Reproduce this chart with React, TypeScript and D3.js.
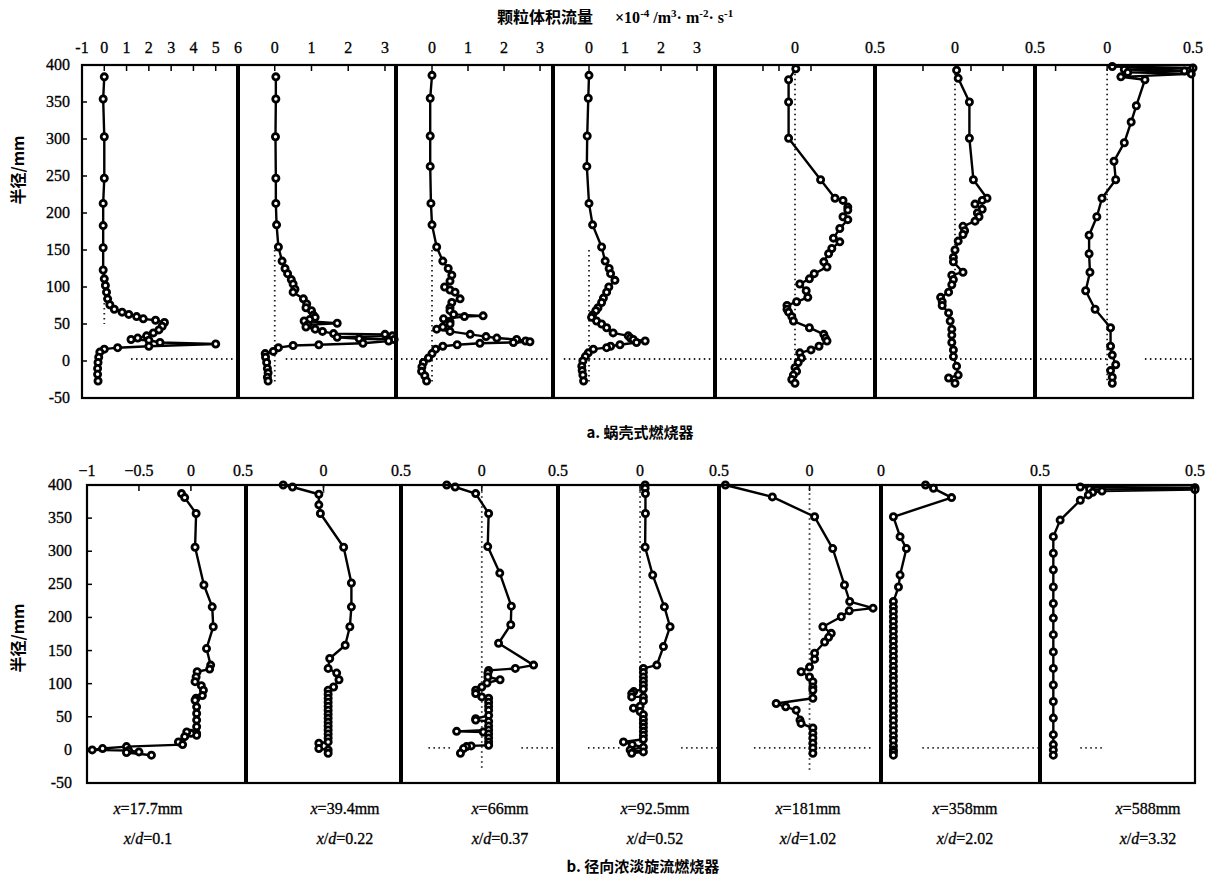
import React from 'react';
import * as d3 from 'd3';

// radial profiles, each point is [radius mm, flux ×10^-4]
// a. volute burner
const volute1: [number, number][] = [[384,0],[354,-0.05],[303,0],[247,0],[213,-0.05],[183,-0.05],[153,-0.05],[123,-0.05],[111,0],[102,0.05],[93,0.1],[84,0.15],[76,0.25],[70,0.45],[66,0.8],[63,1.1],[60,1.45],[57,1.75],[55,2.3],[52,2.7],[47,2.6],[42,2.45],[38,2.2],[34,1.9],[31,1.5],[29,1.2],[28,2.0],[25,2.5],[23,5.0],[20,2.0],[18,0.6],[16,0],[12,-0.2],[5,-0.25],[-2,-0.28],[-10,-0.3],[-18,-0.3],[-27,-0.28]];
const volute2: [number, number][] = [[384,0.03],[354,0.03],[303,0.02],[247,0.03],[213,0.03],[184,0.05],[154,0.1],[135,0.2],[125,0.28],[118,0.35],[110,0.45],[104,0.5],[97,0.55],[93,0.5],[84,0.78],[77,0.87],[72,0.85],[68,1.0],[62,1.05],[59,1.1],[56,0.95],[54,0.8],[51,1.7],[49,0.9],[46,0.85],[43,1.1],[40,1.3],[37,1.6],[36,3.0],[34,3.2],[32,1.7],[30,2.3],[29,3.25],[27,3.1],[24,2.4],[22,1.2],[21,0.5],[18,0.1],[13,-0.04],[10,-0.26],[5,-0.25],[-2,-0.22],[-10,-0.2],[-16,-0.18],[-22,-0.2],[-27,-0.18]];
const volute3: [number, number][] = [[386,0],[355,-0.05],[304,-0.05],[263,-0.05],[213,-0.03],[184,0],[154,0.13],[135,0.3],[125,0.45],[116,0.55],[108,0.5],[100,0.35],[96,0.5],[93,0.64],[84,0.78],[79,0.55],[72,0.5],[68,0.5],[63,0.6],[61,1.42],[60,0.9],[57,0.32],[53,0.5],[50,0.5],[46,0.3],[43,0.13],[40,0.5],[36,1.06],[33,1.5],[31,1.8],[29,2.35],[27,2.6],[26,2.72],[25,2.26],[24,1.33],[22,0.7],[20,0.3],[16,0.1],[10,0],[4,-0.1],[-2,-0.24],[-8,-0.28],[-14,-0.29],[-20,-0.2],[-27,-0.15]];
const volute4: [number, number][] = [[386,0],[355,-0.02],[304,-0.05],[263,-0.06],[213,0],[184,0.1],[154,0.35],[135,0.45],[125,0.56],[118,0.6],[109,0.72],[100,0.55],[93,0.49],[85,0.4],[79,0.35],[72,0.25],[68,0.19],[62,0.1],[59,0.07],[54,0.21],[50,0.35],[45,0.49],[38,0.67],[34,1.09],[31,1.15],[29,1.23],[27,1.56],[25,1.32],[22,0.86],[20,0.6],[18,0.49],[16,0.12],[11,-0.02],[6,-0.1],[0,-0.17],[-7,-0.2],[-13,-0.19],[-19,-0.17],[-27,-0.15]];
const volute5: [number, number][] = [[395,0.005],[380,-0.04],[350,-0.04],[301,-0.04],[245,0.16],[220,0.25],[217,0.3],[208,0.33],[204,0.33],[195,0.3],[191,0.33],[179,0.28],[166,0.24],[161,0.28],[152,0.23],[145,0.21],[134,0.18],[127,0.2],[118,0.12],[111,0.09],[104,0.03],[95,0.07],[86,0.08],[80,0.01],[75,-0.05],[70,-0.05],[66,-0.04],[60,-0.02],[54,-0.01],[45,0.09],[36,0.18],[31,0.19],[27,0.2],[20,0.15],[15,0.1],[11,0.03],[4,0.04],[-2,0.02],[-9,0],[-14,0.01],[-19,-0.01],[-25,-0.02],[-30,0]];
const volute6: [number, number][] = [[393,0.01],[382,0.02],[350,0.09],[301,0.09],[245,0.115],[220,0.2],[217,0.17],[212,0.125],[205,0.17],[200,0.14],[195,0.15],[189,0.125],[182,0.05],[176,0.06],[171,0.05],[162,0.02],[150,0],[140,-0.01],[134,-0.01],[120,0.05],[116,-0.02],[110,-0.01],[103,-0.02],[93,-0.04],[86,-0.09],[80,-0.08],[75,-0.08],[65,-0.04],[54,-0.03],[43,-0.02],[35,-0.02],[25,-0.02],[15,-0.01],[6,-0.01],[-7,0.01],[-19,0.02],[-23,-0.04],[-30,0]];
const volute7: [number, number][] = [[398,0.03],[396,0.5],[394,0.1],[392,0.45],[390,0.12],[388,0.49],[384,0.08],[380,0.22],[345,0.17],[323,0.14],[295,0.1],[270,0.04],[245,0.05],[220,-0.03],[195,-0.06],[170,-0.105],[145,-0.105],[120,-0.1],[95,-0.125],[70,-0.07],[45,0.02],[20,0.02],[8,0.03],[-5,0.05],[-13,0.02],[-22,0.03],[-30,0.03]];

// b. radial bias swirl burner
const radial1: [number, number][] = [[387,-0.09],[381,-0.06],[357,0.05],[306,0.04],[249,0.125],[216,0.205],[186,0.215],[153,0.15],[128,0.19],[122,0.18],[118,0.06],[110,0.05],[103,0.04],[97,0.1],[90,0.12],[82,0.11],[78,0.05],[75,0.04],[65,0.055],[55,0.055],[45,0.055],[35,0.055],[25,0.055],[22,0.055],[25,0],[27,-0.04],[20,-0.06],[12,-0.12],[8,-0.08],[5,-0.62],[2,-0.85],[0,-0.95],[-1,-0.6],[-3,-0.5],[-4,-0.62],[-8,-0.38]];
const radial2: [number, number][] = [[400,-0.26],[397,-0.2],[386,-0.03],[370,-0.03],[357,-0.02],[306,0.13],[252,0.18],[216,0.18],[186,0.17],[158,0.14],[138,0.04],[123,0.03],[116,0.085],[106,0.1],[95,0.065],[90,0.03],[84,0.03],[78,0.03],[72,0.03],[66,0.03],[60,0.03],[54,0.03],[48,0.03],[42,0.03],[36,0.03],[30,0.03],[24,0.03],[18,0.03],[12,0.03],[10,-0.03],[2,-0.03],[0,0.03],[-5,0.03]];
const radial3: [number, number][] = [[400,-0.23],[397,-0.175],[387,-0.04],[357,0.045],[307,0.039],[267,0.118],[217,0.194],[189,0.19],[161,0.11],[128,0.34],[123,0.22],[120,0.045],[116,0.04],[110,0.04],[106,0.12],[101,0.034],[95,0],[90,-0.04],[85,-0.04],[80,0],[78,0.045],[72,0.045],[66,0.045],[60,0.045],[52,0.045],[47,-0.04],[45,-0.04],[43,0.045],[36,0.045],[30,0.045],[28,-0.165],[27,0.01],[24,0.045],[18,0.045],[12,0.045],[7,0.045],[6,-0.07],[5,-0.1],[2,-0.12],[-5,-0.14]];
const radial4: [number, number][] = [[400,0.032],[395,0.032],[387,0.034],[357,0.034],[306,0.032],[264,0.08],[216,0.154],[186,0.19],[156,0.148],[128,0.106],[123,0.021],[117,0.021],[110,0.021],[104,0.021],[98,0.021],[92,0.021],[88,-0.04],[85,-0.053],[80,-0.053],[80,0.021],[74,0.021],[66,0],[63,-0.042],[58,0],[53,0.021],[46,0.021],[40,0.021],[34,0.021],[28,0.021],[22,0.021],[16,0.021],[12,-0.105],[8,-0.05],[4,0.021],[0,-0.063],[-3,0.021],[-5,-0.053]];
const radial5: [number, number][] = [[400,-0.53],[382,-0.234],[352,0.032],[304,0.146],[249,0.22],[224,0.253],[214,0.4],[210,0.25],[201,0.2],[186,0.084],[176,0.137],[170,0.12],[163,0.095],[146,0.032],[137,0.032],[125,0],[118,-0.053],[110,0],[103,0.021],[95,0.021],[90,0.021],[78,0.021],[70,-0.21],[65,-0.15],[60,-0.084],[45,-0.06],[40,-0.053],[33,0.021],[25,0.021],[18,0.021],[10,0.021],[3,0.021],[-5,0.021]];
const radial6: [number, number][] = [[400,0.14],[395,0.165],[381,0.222],[352,0.039],[322,0.06],[304,0.08],[264,0.06],[246,0.055],[224,0.039],[216,0.039],[209,0.039],[201,0.039],[194,0.039],[186,0.039],[179,0.039],[171,0.039],[164,0.039],[156,0.039],[149,0.039],[141,0.039],[134,0.039],[126,0.039],[119,0.039],[111,0.039],[104,0.039],[96,0.039],[89,0.039],[81,0.039],[74,0.039],[66,0.039],[59,0.039],[51,0.039],[44,0.039],[36,0.039],[29,0.039],[21,0.039],[14,0.039],[6,0.039],[0,0.039],[-3,0.039],[-8,0.039]];
const radial7: [number, number][] = [[397,0.13],[396,0.5],[394,0.16],[393,0.5],[391,0.2],[389,0.17],[385,0.156],[377,0.13],[347,0.065],[322,0.043],[297,0.043],[272,0.043],[246,0.043],[221,0.043],[199,0.043],[174,0.043],[148,0.043],[123,0.043],[98,0.043],[73,0.043],[48,0.043],[23,0.043],[8,0.043],[0,0.043],[-8,0.043]];

const voluteSeries = [volute1, volute2, volute3, volute4, volute5, volute6, volute7];
const radialSeries = [radial1, radial2, radial3, radial4, radial5, radial6, radial7];

const voluteDomains: [number, number][] = [[-1, 6], [-1, 3.3], [-1, 3.36], [-1, 3.5], [-0.5, 0.5], [-0.5, 0.5], [-0.42, 0.5]];
const radialDomains: [number, number][] = [[-1, 0.53], [-0.5, 0.5], [-0.53, 0.5], [-0.52, 0.5], [-0.57, 0.45], [0, 0.5], [0, 0.5]];

const voluteLabels = [['-1', '0', '1', '2', '3', '4', '5', '6'], ['0', '1', '2', '3'], ['0', '1', '2', '3'], ['0', '1', '2', '3'], ['0', '0.5'], ['0', '0.5'], ['0', '0.5']];
const radialLabels = [['−1', '−0.5', '0', '0.5'], ['0', '0.5'], ['0', '0.5'], ['0', '0.5'], ['0'], ['0', '0.5'], ['0.5']];
const voluteTicks = [[0, 1, 2, 3, 4, 5], [0, 1, 2, 3], [0, 1, 2, 3], [0, 1, 2, 3], [-0.2, -0.1, 0, 0.1], [-0.2, 0.1, 0.3], [-0.3, 0]];
const radialTicks = [[-0.5, 0], [0], [0], [0], [0], [], []];

// zero reference lines: vertical spans [rTop, rBottom], horizontal value ranges
const voluteZeroV: ([number, number] | null)[] = [[85, 50], [150, -30], [150, -30], [150, -30], [395, -30], [395, 100], [395, -30]];
const radialZeroV: ([number, number] | null)[] = [null, [398, 385], [398, -30], [398, 0], [395, -30], null, null];
const voluteZeroH: [number, number][][] = [[[1.2, 6]], [[0.3, 3.3]], [[-1, 3.36]], [[-0.7, 3.5]], [[-0.5, 0.5]], [[-0.5, 0.5]], [[-0.42, 0], [0.22, 0.5]]];
const radialZeroH: [number, number][][] = [[], [], [[-0.35, -0.2], [0.26, 0.5]], [[-0.33, -0.12], [0.26, 0.5]], [[-0.35, 0.4]], [[0.13, 0.5]], [[0.13, 0.2]]];

const radiusTicks = [400, 350, 300, 250, 200, 150, 100, 50, 0, -50];
const stations = ['17.7', '39.4', '66', '92.5', '181', '358', '588'];
const ratios = ['0.1', '0.22', '0.37', '0.52', '1.02', '2.02', '3.32'];

const SERIF = '"Liberation Serif", "Times New Roman", serif';
const CJK = '"Noto Sans CJK SC", "Noto Sans CJK JP", sans-serif';

const voluteEdges = [82, 238, 396, 553, 715, 875, 1035, 1193];
const radialEdges = [87, 246, 401, 558, 719, 881, 1040, 1195];
const stationX = [148, 345, 500, 655, 808, 965, 1148];

type Row = {
  edges: number[];
  domains: [number, number][];
  series: [number, number][][];
  labels: string[][];
  ticks: number[][];
  zeroV: ([number, number] | null)[];
  zeroH: [number, number][][];
  top: number;
  bottom: number;
  labelY: number;
  yLabelX: number;
};

const DrawRow = ({ row }: { row: Row }) => {
  const y = d3.scaleLinear().domain([-50, 400]).range([row.bottom, row.top]);
  const { edges } = row;
  return (
    <g>
      {radiusTicks.map((r) => (
        <g key={r}>
          <text x={row.yLabelX} y={y(r) + 5} textAnchor="end" fontFamily={SERIF} fontSize={16} stroke="#000" strokeWidth={0.3}>{r}</text>
          {r < 400 && r > -50 && <line x1={edges[0]} x2={edges[0] + 5} y1={y(r)} y2={y(r)} stroke="#000" strokeWidth={1.5} />}
        </g>
      ))}
      {row.series.map((data, i) => {
        const x = d3.scaleLinear().domain(row.domains[i]).range([edges[i], edges[i + 1]]);
        const line = d3.line<[number, number]>().x((d) => x(d[1])).y((d) => y(d[0]));
        const zv = row.zeroV[i];
        return (
          <g key={i}>
            {row.labels[i].map((t) => {
              const v = parseFloat(t.replace('−', '-'));
              return <text key={t} x={x(v)} y={row.labelY} textAnchor="middle" fontFamily={SERIF} fontSize={16} stroke="#000" strokeWidth={0.3}>{t}</text>;
            })}
            {row.ticks[i].map((v) => (
              <line key={v} x1={x(v)} x2={x(v)} y1={row.top} y2={row.top + 6} stroke="#000" strokeWidth={1.5} />
            ))}
            {zv && <line x1={x(0)} x2={x(0)} y1={y(zv[0])} y2={y(zv[1])} stroke="#222" strokeWidth={1.8} strokeDasharray="1.5 3.5" />}
            {row.zeroH[i].map((s, k) => (
              <line key={k} x1={x(s[0])} x2={x(s[1])} y1={y(0) - 2} y2={y(0) - 2} stroke="#222" strokeWidth={1.8} strokeDasharray="1.5 3.5" />
            ))}
            <path d={line(data) ?? ''} fill="none" stroke="#000" strokeWidth={2.4} strokeLinejoin="round" />
            {data.map((d, k) => (
              <circle key={k} cx={x(d[1])} cy={y(d[0])} r={3.1} fill="#fff" stroke="#000" strokeWidth={2.8} />
            ))}
          </g>
        );
      })}
      <rect x={edges[0]} y={row.top} width={edges[7] - edges[0]} height={row.bottom - row.top} fill="none" stroke="#000" strokeWidth={2.2} />
      {edges.slice(1, 7).map((e) => (
        <line key={e} x1={e} x2={e} y1={row.top} y2={row.bottom} stroke="#000" strokeWidth={4} />
      ))}
    </g>
  );
};

const App = () => {
  const topRow: Row = {
    edges: voluteEdges, domains: voluteDomains, series: voluteSeries, labels: voluteLabels, ticks: voluteTicks,
    zeroV: voluteZeroV, zeroH: voluteZeroH, top: 65, bottom: 398, labelY: 53, yLabelX: 70,
  };
  const bottomRow: Row = {
    edges: radialEdges, domains: radialDomains, series: radialSeries, labels: radialLabels, ticks: radialTicks,
    zeroV: radialZeroV, zeroH: radialZeroH, top: 485, bottom: 783, labelY: 476, yLabelX: 72,
  };
  return (
    <svg width={1217} height={881} style={{ position: 'absolute', left: 0, top: 0, background: '#fff' }}>
      <rect width={1217} height={881} fill="#fff" />
      <text x={545} y={23} textAnchor="middle" fontFamily={CJK} fontWeight="bold" fontSize={16}>颗粒体积流量</text>
      <text x={615} y={23} fontFamily={SERIF} fontWeight="bold" fontSize={16}>
        ×10<tspan dy={-6} fontSize={11}>-4</tspan><tspan dy={6}>  /m</tspan><tspan dy={-6} fontSize={11}>3</tspan>
        <tspan dy={6}>·  m</tspan><tspan dy={-6} fontSize={11}>-2</tspan><tspan dy={6}>·  s</tspan><tspan dy={-6} fontSize={11}>-1</tspan>
      </text>
      <DrawRow row={topRow} />
      <DrawRow row={bottomRow} />
      <text transform="translate(24,170) rotate(-90)" textAnchor="middle" fontFamily={CJK} fontWeight="bold" fontSize={16}>半径/mm</text>
      <text transform="translate(24,638) rotate(-90)" textAnchor="middle" fontFamily={CJK} fontWeight="bold" fontSize={16}>半径/mm</text>
      <text x={640} y={438} textAnchor="middle" fontFamily={CJK} fontWeight="bold" fontSize={15}>a. 蜗壳式燃烧器</text>
      <text x={643} y={872} textAnchor="middle" fontFamily={CJK} fontWeight="bold" fontSize={15}>b. 径向浓淡旋流燃烧器</text>
      {stations.map((s, i) => (
        <g key={s} fontFamily={SERIF} fontSize={16} stroke="#000" strokeWidth={0.3}>
          <text x={stationX[i]} y={814} textAnchor="middle"><tspan fontStyle="italic">x</tspan>={s}mm</text>
          <text x={stationX[i]} y={844} textAnchor="middle"><tspan fontStyle="italic">x</tspan>/<tspan fontStyle="italic">d</tspan>={ratios[i]}</text>
        </g>
      ))}
    </svg>
  );
};

export default App;
